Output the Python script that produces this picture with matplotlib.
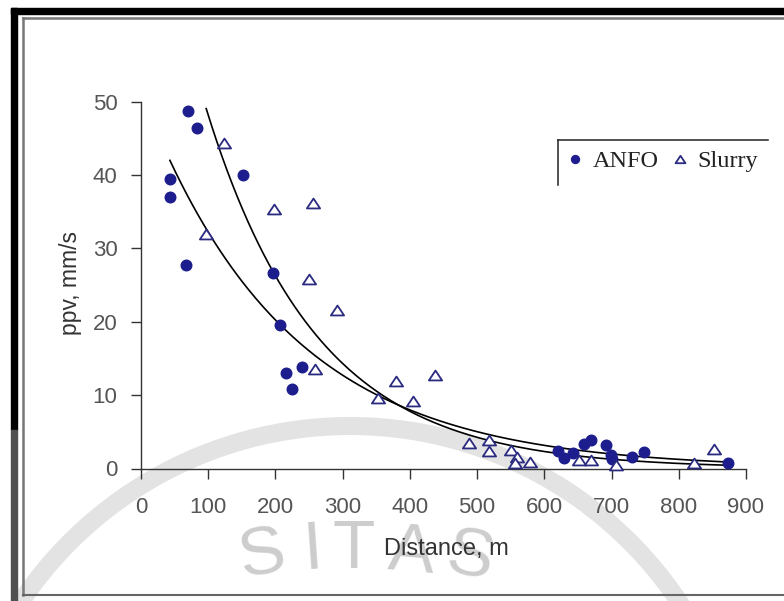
import numpy as np
import matplotlib
matplotlib.use("Agg")
import matplotlib.pyplot as plt
from matplotlib.lines import Line2D
from matplotlib.patches import Rectangle, Arc
from matplotlib.path import Path

# ---------------- data ----------------
anfo_dist = [43, 43, 70, 83, 152, 67, 197, 207, 215, 240, 224,
             621, 629, 642, 659, 669, 691, 699, 701, 731, 748, 873]
anfo_ppv = [39.4, 37.0, 48.8, 46.4, 40.0, 27.8, 26.7, 19.6, 13.0, 13.9, 10.9,
            2.4, 1.4, 2.1, 3.4, 3.9, 3.2, 1.8, 1.3, 1.5, 2.2, 0.7]

slurry_dist = [96, 124, 198, 256, 250, 291, 259, 353, 380, 405, 437,
               488, 517, 517, 550, 560, 557, 579, 651, 669, 706, 822, 852]
slurry_ppv = [31.9, 44.4, 35.4, 36.2, 25.8, 21.6, 13.5, 9.6, 11.9, 9.2, 12.7,
              3.5, 3.9, 2.4, 2.5, 1.5, 0.7, 0.9, 1.2, 1.2, 0.5, 0.7, 2.6]

# exponential trend lines ppv = K * exp(-b * D)  [K, b, Dmin, Dmax]
anfo_fit = [51.3, 0.00465, 43, 872]
slurry_fit = [88.4, 0.00607, 97, 872]

x_ticks = [0, 100, 200, 300, 400, 500, 600, 700, 800, 900]
y_ticks = [0, 10, 20, 30, 40, 50]
series_names = ["ANFO", "Slurry"]
x_label = "Distance, m"
y_label = "ppv, mm/s"
watermark = "SITAS"

# ---------------- figure ----------------
W, H = 784, 601
fig = plt.figure(figsize=(W / 100, H / 100), dpi=100)
fig.patch.set_facecolor("white")

def fx(px):
    return px / W

def fy(py):
    return 1 - py / H

# faint watermark ------------------------------------------------------
arc = Arc((fx(350), fy(822)), 2 * 396 / W, 2 * 396 / H, theta1=25, theta2=155,
          transform=fig.transFigure, color="#e3e3e3", lw=13, zorder=-5)
fig.add_artist(arc)
wm_pos = [(262, 556, 10), (313, 550, 4), (354, 550, 0), (412, 553, -5), (470, 558, -11)]
for ch, (px, py, rot) in zip(watermark, wm_pos):
    fig.text(fx(px), fy(py), ch, fontsize=50, family="Liberation Sans",
             color="#cdcdcd", rotation=rot, ha="center", va="center",
             zorder=-4)

# frame borders ------------------------------------------------------
fig.add_artist(Rectangle((fx(11), fy(14)), fx(W - 11), 6 / H, color="black",
                         transform=fig.transFigure, zorder=5))
fig.add_artist(Rectangle((fx(11), fy(430)), 6 / W, (430 - 8) / H, color="black",
                         transform=fig.transFigure, zorder=5))
fig.add_artist(Rectangle((fx(11), 0), 6 / W, fy(430), color="#505050",
                         transform=fig.transFigure, zorder=5))
fig.add_artist(Line2D([fx(23), 1], [fy(18), fy(18)], color="#777777", lw=1.8,
                      transform=fig.transFigure, zorder=5))
fig.add_artist(Line2D([fx(23), fx(23)], [fy(18), fy(595)], color="#777777", lw=1.8,
                      transform=fig.transFigure, zorder=5))
fig.add_artist(Line2D([fx(23), 1], [fy(595), fy(595)], color="#666666", lw=1.5,
                      transform=fig.transFigure, zorder=5))

# axes ---------------------------------------------------------------
x0, x1 = 141, 746
y0, y1 = 468.5, 101.7
ax = fig.add_axes([fx(x0), fy(y0), (x1 - x0) / W, (y0 - y1) / H])
ax.set_facecolor("none")
ax.set_xlim(0, 900)
ax.set_ylim(0, 50)
for s in ["top", "right"]:
    ax.spines[s].set_visible(False)
for s in ["left", "bottom"]:
    ax.spines[s].set_linewidth(1.0)
    ax.spines[s].set_color("#333333")

ax.set_xticks(x_ticks)
ax.set_yticks(y_ticks)
ax.set_xticklabels([str(v) for v in x_ticks])
ax.set_yticklabels([str(v) for v in y_ticks])
ax.tick_params(axis="both", direction="out", length=7, width=1.0,
               color="#333333", labelcolor="#555555", labelsize=16)
ax.tick_params(axis="x", pad=13.5)
ax.tick_params(axis="y", pad=10)
for lab in ax.get_xticklabels() + ax.get_yticklabels():
    lab.set_family("Liberation Sans")

# trend lines
for K, b, d0, d1 in [anfo_fit, slurry_fit]:
    d = np.linspace(d0, d1, 300)
    ax.plot(d, K * np.exp(-b * d), color="black", lw=1.2, zorder=2)

tri = Path([(0, 0.75), (-1, -0.75), (1, -0.75), (0, 0.75)],
           [Path.MOVETO, Path.LINETO, Path.LINETO, Path.CLOSEPOLY])

h1, = ax.plot(anfo_dist, anfo_ppv, linestyle="none", marker="o", markersize=7.6,
              markerfacecolor="#1d1d8e", markeredgecolor="#1d1d8e",
              clip_on=False, zorder=3)
h2, = ax.plot(slurry_dist, slurry_ppv, linestyle="none", marker=tri,
              markersize=9.5, markerfacecolor="white", markeredgecolor="#2a2a80",
              markeredgewidth=1.3, clip_on=False, zorder=3)

# axis labels
fig.text(fx(446), fy(555), x_label, fontsize=17, family="Liberation Sans",
         color="#333333", ha="center", va="baseline")
fig.text(fx(70), fy(283), y_label, fontsize=16.5, family="Liberation Sans",
         color="#333333", ha="center", va="center", rotation=90)

# legend
leg = ax.legend([h1, h2], series_names, ncol=2, frameon=False,
                prop={"family": "Liberation Serif", "size": 17.5},
                loc="center left", bbox_to_anchor=(fx(568), fy(161)),
                bbox_transform=fig.transFigure, handlelength=0.55,
                handletextpad=0.45, columnspacing=0.6, borderpad=0,
                borderaxespad=0, markerscale=0.75)
for t in leg.get_texts():
    t.set_color("#222222")
fig.add_artist(Line2D([fx(558), fx(768)], [fy(140), fy(140)], color="#222222",
                      lw=1.1, transform=fig.transFigure))
fig.add_artist(Line2D([fx(558), fx(558)], [fy(140), fy(185)], color="#222222",
                      lw=1.1, transform=fig.transFigure))

fig.savefig("out.png", dpi=100)
